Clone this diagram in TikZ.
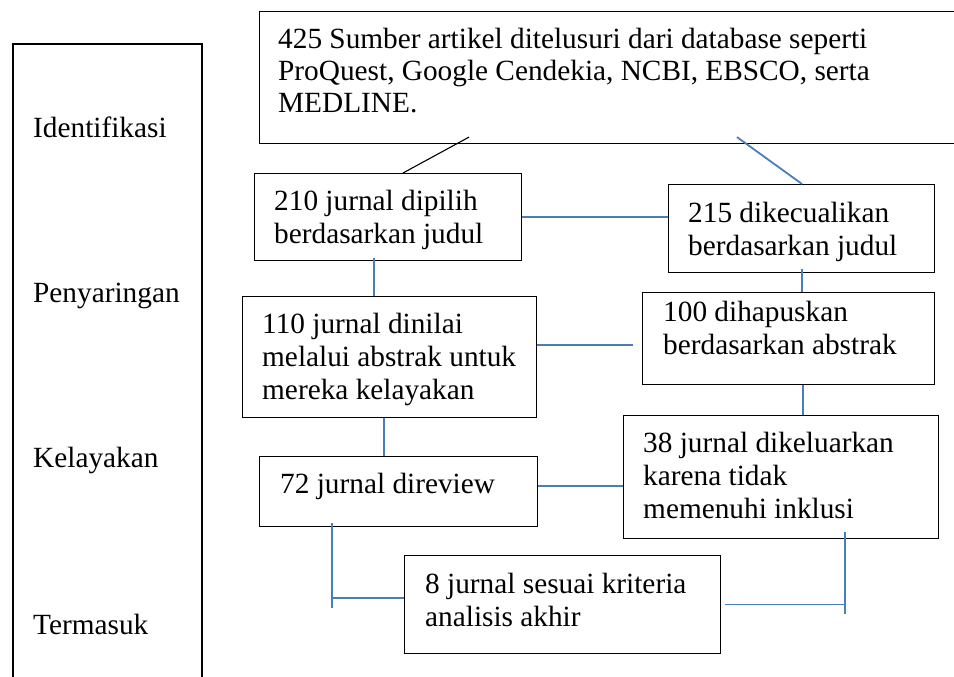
\documentclass[tikz,border=0pt]{standalone}
\usepackage{fontspec}
\setmainfont{Liberation Serif}
\usepackage{xcolor}
\usepackage{tikz}
\usetikzlibrary{positioning}
\definecolor{garisbiru}{HTML}{4A7EBB}

\begin{document}
\begin{tikzpicture}[x=1pt, y=-1pt,
  kotak/.style={draw, line width=1.1pt, inner sep=0pt, anchor=north west},
  teks/.style={anchor=base west, inner sep=0pt, align=left, font=\fontsize{29.3}{33}\selectfont},
  garis/.style={line width=1.1pt},
  biru/.style={draw=garisbiru, line width=1.8pt}]
\useasboundingbox (0,0) rectangle (954,677);
% Stage column, open at the bottom
\draw[garis] (13,677) -- (13,44) -- (202,44) -- (202,677);
\foreach \lab/\y [count=\i] in {Identifikasi/137, Penyaringan/302, Kelayakan/467, Termasuk/634} {
  \node[teks] (tahap\i) at (33,\y) {\lab};
}
% Boxes: name/x/y/width/height
\foreach \nm/\x/\y/\w/\h in {b425/259/11/700/132, b210/254/173/267/87, b215/668/184/266/88,
    b110/242/296/294/121, b100/642/292/292/92, b72/259/456/278/70, b38/623/415/315/123, b8/404/555/316/98} {
  \node[kotak, minimum width=\w pt, minimum height=\h pt] (\nm) at (\x,\y) {};
}
% Box texts (placed at the baseline of the last line)
\node[teks, font=\fontsize{29.3}{32.5}\selectfont] (t425) at (278,113) {425 Sumber artikel ditelusuri dari database seperti\\ProQuest, Google Cendekia, NCBI, EBSCO, serta\\MEDLINE.};
\node[teks] (t210) at (274,243) {210 jurnal dipilih\\berdasarkan judul};
\node[teks] (t215) at (688,255) {215 dikecualikan\\berdasarkan judul};
\node[teks] (t110) at (262,399) {110 jurnal dinilai\\melalui abstrak untuk\\mereka kelayakan};
\node[teks] (t100) at (663,354) {100 dihapuskan\\berdasarkan abstrak};
\node[teks] (t72) at (280,493) {72 jurnal direview};
\node[teks] (t38) at (643,518) {38 jurnal dikeluarkan\\karena tidak\\memenuhi inklusi};
\node[teks] (t8) at (425,626) {8 jurnal sesuai kriteria\\analisis akhir};
% Connectors
\draw[garis] ([xshift=210pt,yshift=7pt]b425.south west) -- ([xshift=149pt]b210.north west);
\draw[biru] ([xshift=478pt,yshift=7pt]b425.south west) -- ([xshift=134pt]b215.north west);
\draw[biru] (b210.east) -- (b210.east -| b215.west);
\draw[biru] ([xshift=120pt,yshift=3pt]b210.south west) coordinate (v1) -- (v1 |- b110.north);
\draw[biru] ([xshift=134pt,yshift=4pt]b215.south west) coordinate (v2) -- (v2 |- b100.north);
\draw[biru] ([yshift=-49pt]b110.north east) coordinate (h1) -- ([xshift=-9pt]b100.west |- h1);
\draw[biru] ([xshift=142pt]b110.south west) coordinate (v3) -- (v3 |- b72.north);
\draw[biru] ([xshift=161pt]b100.south west) coordinate (v4) -- (v4 |- b38.north);
\draw[biru] ([yshift=-30pt]b72.north east) coordinate (h2) -- (h2 -| b38.west);
% Brackets into the last box
\draw[biru] ([xshift=73pt,yshift=4pt]b72.south west) coordinate (k1) -- ++(0,85);
\draw[biru] ([yshift=-43pt]b8.north west) coordinate (k2) -- (k1 |- k2);
\draw[biru] ([xshift=222pt,yshift=7pt]b38.south west) coordinate (k3) -- ++(0,82);
\draw[biru] ([xshift=4pt]b8.east) -- (k3 |- b8.east);
\end{tikzpicture}
\end{document}
